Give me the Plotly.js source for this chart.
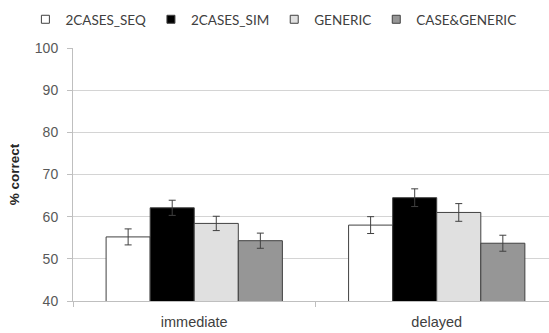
<!DOCTYPE html>
<html>
<head>
<meta charset="utf-8">
<script src="https://cdn.plot.ly/plotly-3.0.1.min.js"></script>
<style>html,body{margin:0;padding:0;background:#fff;}#chart{width:549px;height:333px;}</style>
</head>
<body>
<div id="chart"></div>
<script>
const categories = ["immediate", "delayed"];
const seriesNames = ["2CASES_SEQ", "2CASES_SIM", "GENERIC", "CASE&GENERIC"];
const seqValues = [55.2, 58.0];
const simValues = [62.1, 64.5];
const genericValues = [58.4, 61.0];
const caseGenericValues = [54.3, 53.7];
const seqErr = [1.9, 2.0];
const simErr = [1.8, 2.1];
const genericErr = [1.7, 2.1];
const caseGenericErr = [1.8, 1.9];
const yTicks = [40, 50, 60, 70, 80, 90, 100];

const fills = ["#ffffff", "#000000", "#e0e0e0", "#969696"];
const values = [seqValues, simValues, genericValues, caseGenericValues];
const errs = [seqErr, simErr, genericErr, caseGenericErr];

const traces = [];
seriesNames.forEach((name, i) => {
  traces.push({
    type: "bar",
    name: name,
    x: categories,
    y: values[i],
    showlegend: false,
    marker: {color: fills[i], line: {color: "#404040", width: 1}},
    error_y: {type: "data", array: errs[i], visible: true, color: "#404040", thickness: 1, width: 3.5}
  });
});
seriesNames.forEach((name, i) => {
  traces.push({
    type: "scatter",
    mode: "markers",
    name: name,
    x: [null],
    y: [null],
    showlegend: true,
    marker: {symbol: "square", size: 8, color: fills[i], line: {color: "#404040", width: 1}}
  });
});

const font = "Liberation Sans, Arial, sans-serif";
const legendFont = "Lato, Liberation Sans, sans-serif";
const layout = {
  width: 549,
  height: 333,
  margin: {l: 73, r: 0, t: 48, b: 32},
  paper_bgcolor: "#ffffff",
  plot_bgcolor: "#ffffff",
  barmode: "group",
  bargap: 0.273,
  bargroupgap: 0,
  font: {family: font, size: 13, color: "#404040"},
  showlegend: true,
  legend: {
    orientation: "h",
    xref: "paper", yref: "paper",
    x: -0.10, xanchor: "left",
    y: 1 + 44 / 253, yanchor: "top",
    font: {family: legendFont, size: 13.5, color: "#404040"},
    itemwidth: 30,
    tracegroupgap: 0
  },
  xaxis: {
    type: "category",
    range: [-0.5, 1.463],
    showgrid: false,
    showline: true,
    linecolor: "#bfbfbf",
    linewidth: 1,
    ticks: "outside",
    tickson: "boundaries",
    ticklen: 5,
    tickcolor: "#bfbfbf",
    ticklabelstandoff: 8,
    tickfont: {family: font, size: 14.5, color: "#404040"},
    zeroline: false,
    fixedrange: true
  },
  yaxis: {
    range: [40, 100],
    tickvals: yTicks,
    ticktext: yTicks.map(String),
    showgrid: true,
    gridcolor: "#d4d4d4",
    gridwidth: 1.3,
    showline: true,
    linecolor: "#bfbfbf",
    linewidth: 1,
    ticks: "outside",
    ticklen: 5,
    tickcolor: "#bfbfbf",
    ticklabelstandoff: 6,
    tickfont: {family: font, size: 14, color: "#595959"},
    zeroline: false,
    title: {text: "<b>% correct</b>", font: {family: font, size: 13.5, color: "#262626"}, standoff: 12},
    fixedrange: true
  }
};

Plotly.newPlot("chart", traces, layout, {displayModeBar: false, staticPlot: true});
</script>
</body>
</html>
